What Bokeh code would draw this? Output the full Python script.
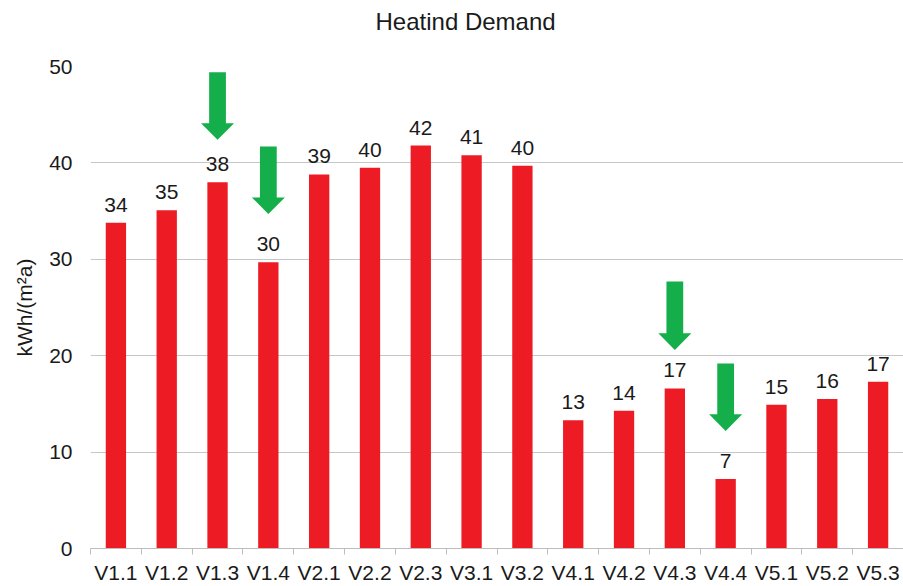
from bokeh.plotting import figure
from bokeh.models import Range1d, FixedTicker, ColumnDataSource, Title
from bokeh.embed import file_html
from bokeh.resources import INLINE
from bokeh.core.properties import value

# ---- data ----
categories = ["V1.1", "V1.2", "V1.3", "V1.4", "V2.1", "V2.2", "V2.3", "V3.1",
              "V3.2", "V4.1", "V4.2", "V4.3", "V4.4", "V5.1", "V5.2", "V5.3"]
demand = [33.8, 35.1, 38.0, 29.7, 38.8, 39.5, 41.8, 40.8,
          39.7, 13.3, 14.3, 16.6, 7.2, 14.9, 15.5, 17.3]
labels = ["34", "35", "38", "30", "39", "40", "42", "41",
          "40", "13", "14", "17", "7", "15", "16", "17"]
y_ticks = [0, 10, 20, 30, 40, 50]
title_text = "Heatind Demand"

# green arrows: category, top of shaft, tip
arrow_cats = ["V1.3", "V1.4", "V4.3", "V4.4"]
arrow_top = [49.4, 41.7, 27.7, 19.2]
arrow_tip = [42.4, 34.7, 20.6, 12.2]

# ---- style ----
RED = "#ED1C24"
GREEN = "#14AE4A"
FONT = "Liberation Sans"
TXT = "#1a1a1a"

centers = [i + 0.5 for i in range(len(categories))]
boundaries = list(range(len(categories) + 1))

p = figure(width=903, height=586, output_backend="svg", toolbar_location=None,
           x_range=Range1d(0, len(categories)), y_range=Range1d(0, 50),
           min_border_left=90, min_border_right=0, min_border_bottom=38,
           min_border_top=66)
p.outline_line_color = None
p.background_fill_color = "white"
p.border_fill_color = "white"

t = Title(text=title_text, align="left", offset=285,
          vertical_align="top",
          padding=dict(left=0, right=0, top=0, bottom=24),
          text_font=FONT, text_font_size="24px", text_font_style="normal",
          text_color=TXT, standoff=12)
p.add_layout(t, "above")

src = ColumnDataSource(dict(x=centers, top=demand, lab=labels))
p.vbar(x="x", top="top", bottom=0, width=0.4, source=src,
       fill_color=RED, line_color=None)
p.text(x="x", y="top", text="lab", source=src, text_align="center",
       text_baseline="alphabetic", y_offset=-18, text_font=value(FONT),
       text_font_size="21px", text_color=TXT)

# arrows
SHAFT_HW = 0.165
HEAD_HW = 0.325
HEAD_LEN = 1.72
xs, ys = [], []
for c, top, tip in zip(arrow_cats, arrow_top, arrow_tip):
    cx = categories.index(c) + 0.5
    hb = tip + HEAD_LEN
    xs.append([cx - SHAFT_HW, cx + SHAFT_HW, cx + SHAFT_HW, cx + HEAD_HW,
               cx, cx - HEAD_HW, cx - SHAFT_HW])
    ys.append([top, top, hb, hb, tip, hb, hb])
p.patches(xs, ys, fill_color=GREEN, line_color=None)

# grid
p.xgrid.grid_line_color = None
p.ygrid.ticker = FixedTicker(ticks=y_ticks)
p.ygrid.grid_line_color = "#C6C6C6"
p.ygrid.grid_line_width = 1

# x axis
xa = p.xaxis[0]
xa.ticker = FixedTicker(ticks=centers, minor_ticks=boundaries)
xa.major_label_overrides = {c: n for c, n in zip(centers, categories)}
xa.major_tick_line_color = None
xa.minor_tick_line_color = "#BDBDBD"
xa.minor_tick_out = 6
xa.minor_tick_in = 0
xa.axis_line_color = "#BDBDBD"
xa.major_label_text_font = FONT
xa.major_label_text_font_size = "21px"
xa.major_label_text_color = TXT
xa.major_label_standoff = 6

# y axis
ya = p.yaxis[0]
ya.ticker = FixedTicker(ticks=y_ticks)
ya.axis_line_color = None
ya.major_tick_line_color = None
ya.minor_tick_line_color = None
ya.major_tick_out = 0
ya.major_label_standoff = 18
ya.major_label_text_font = FONT
ya.major_label_text_font_size = "21px"
ya.major_label_text_color = TXT
ya.axis_label = "kWh/(m²a)"
ya.axis_label_text_font = FONT
ya.axis_label_text_font_size = "21px"
ya.axis_label_text_font_style = "normal"
ya.axis_label_text_color = TXT
ya.axis_label_standoff = 10

open("out.html", "w").write(file_html(p, INLINE))
